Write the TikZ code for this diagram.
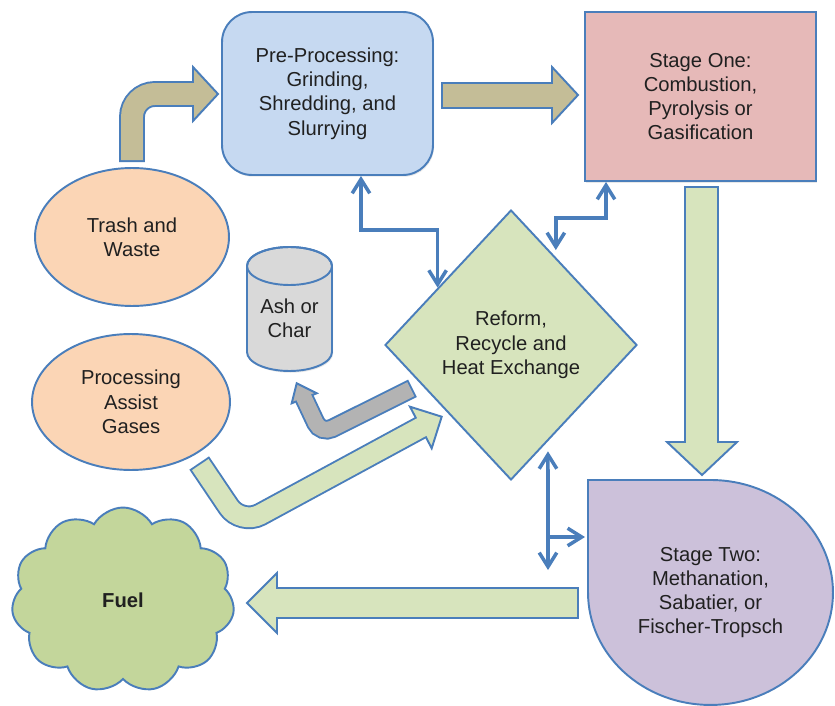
\documentclass[tikz,border=0pt]{standalone}
\usepackage{fontspec}
\setmainfont{Liberation Sans}
\usetikzlibrary{positioning, shapes.geometric, shapes.symbols, shadows, arrows.meta}

\definecolor{edgeblue}{HTML}{4A7EBB}
\definecolor{preblue}{HTML}{C6D9F1}
\definecolor{onepink}{HTML}{E6B9B8}
\definecolor{peach}{HTML}{FBD5B5}
\definecolor{ashgray}{HTML}{D9D9D9}
\definecolor{arrowgray}{HTML}{B3B3B3}
\definecolor{reformgreen}{HTML}{D7E4BD}
\definecolor{twopurple}{HTML}{CCC1DA}
\definecolor{fuelgreen}{HTML}{C3D69B}
\definecolor{khaki}{HTML}{C4BD97}
\definecolor{textdark}{HTML}{202020}

\tikzset{
  box/.style={draw=edgeblue, line width=1.1pt, align=center, text=textdark, inner sep=1pt},
  softshadow/.style={drop shadow={opacity=0.18, shadow xshift=0.6pt, shadow yshift=-1pt}},
  flow/.style={draw=edgeblue, line width=2pt, {Straight Barb[length=8pt,width=10pt]}-{Straight Barb[length=8pt,width=10pt]}},
  flowone/.style={draw=edgeblue, line width=2pt, -{Straight Barb[length=8pt,width=10pt]}},
  shaft/.style={draw=edgeblue, line width=1.1pt, line join=miter}
}

\begin{document}
\begin{tikzpicture}[x=0.02cm, y=0.02cm, font=\fontsize{11.5}{13.8}\selectfont]
\useasboundingbox (0,0) rectangle (835,-706);

% straight block arrows
\filldraw[fill=khaki, shaft] (442,-83) -- (552,-83) -- (552,-67) -- (578,-95) -- (552,-123) -- (552,-108) -- (442,-108) -- cycle;
\filldraw[fill=reformgreen, shaft] (685,-187) -- (718,-187) -- (718,-442) -- (737,-442) -- (702,-475) -- (667,-442) -- (685,-442) -- cycle;
\filldraw[fill=reformgreen, shaft] (578,-588) -- (277,-588) -- (277,-573) -- (247,-603) -- (277,-633) -- (277,-618) -- (578,-618) -- cycle;

% bent block arrows (outline, head, then body)
\draw[edgeblue, line width=14.7pt, rounded corners=13pt] (132,-162) -- (132,-94) -- (193,-94);
\filldraw[fill=khaki, shaft] (193,-67) -- (218,-94) -- (193,-121) -- cycle;
\draw[khaki, line width=12.5pt, rounded corners=13pt, shorten <=1.1pt, shorten >=-3pt] (132,-162) -- (132,-94) -- (193,-94);

\draw[edgeblue, line width=13.5pt, rounded corners=12.5pt] (199.2,-463) -- (241,-525) -- (420.8,-427.5);
\filldraw[fill=reformgreen, shaft] (410,-406.7) -- (441.7,-416.7) -- (431.7,-448.3) -- cycle;
\draw[reformgreen, line width=11.3pt, rounded corners=12.5pt, shorten <=1.1pt, shorten >=-3pt] (199.2,-463) -- (241,-525) -- (420.8,-427.5);

\draw[edgeblue, line width=11.1pt, rounded corners=7pt] (412.5,-388.3) -- (321,-434) -- (304.2,-398.3);
\filldraw[fill=arrowgray, shaft] (291.7,-403.3) -- (296.7,-383.3) -- (316.7,-393.3) -- cycle;
\draw[arrowgray, line width=8.9pt, rounded corners=7pt, shorten <=1.1pt, shorten >=-2.5pt] (412.5,-388.3) -- (321,-434) -- (304.2,-398.3);

% shapes
\node[box, fill=preblue, rounded corners=0.6cm, minimum width=4.22cm, minimum height=3.26cm, softshadow] (pre) at (327.5,-93.5) {Pre-Processing:\\Grinding,\\Shredding, and\\Slurrying};
\node[box, fill=onepink, minimum width=4.62cm, minimum height=3.38cm, softshadow] (one) at (700.5,-96.5) {Stage One:\\Combustion,\\Pyrolysis or\\Gasification};
\node[box, ellipse, fill=peach, minimum width=3.88cm, minimum height=2.76cm] (trash) at (132,-237) {Trash and\\Waste};
\node[box, ellipse, fill=peach, minimum width=3.96cm, minimum height=2.72cm] (gases) at (131,-402) {Processing\\Assist\\Gases};
\node[box, diamond, fill=reformgreen, minimum width=5.04cm, minimum height=5.4cm, inner sep=0pt] (reform) at (511,-345) {Reform,\\Recycle and\\Heat Exchange};

\filldraw[fill=ashgray, draw=edgeblue, line width=1.1pt, softshadow] (247,-266) -- (247,-352) arc[start angle=180, end angle=360, x radius=0.85cm, y radius=0.38cm] -- (332,-266) arc[start angle=0, end angle=180, x radius=0.85cm, y radius=0.38cm] -- cycle;
\draw[edgeblue, line width=1.1pt] (289.5,-266) ellipse [x radius=0.85cm, y radius=0.38cm];
\node[align=center, text=textdark] (ash) at (289.5,-318) {Ash or\\Char};

\filldraw[fill=twopurple, draw=edgeblue, line width=1.1pt] (588,-592.5) -- (588,-480) -- (710.5,-480) arc[start angle=90, end angle=-180, x radius=2.45cm, y radius=2.25cm] -- cycle;
\node[align=center, text=textdark, minimum width=4.9cm, minimum height=4.5cm] (two) at (710.5,-592.5) {Stage Two:\\Methanation,\\Sabatier, or\\Fischer-Tropsch};

\node[box, cloud, cloud puffs=11, cloud puff arc=120, aspect=1.2, fill=fuelgreen, minimum width=4.46cm, minimum height=3.7cm] (fuel) at (123,-600) {\textbf{Fuel}};

% thin exchange arrows
\draw[flow] ([xshift=0.67cm]pre.south) -- ++(0,-54) -| (reform.142);
\draw[flow] ([xshift=-1.89cm]one.south) -- ++(0,-36) -| ([yshift=0.14cm]reform.63);
\coordinate (tap) at (548,-570);
\coordinate (twoin) at (585,-537);
\draw[flow] ([yshift=-0.2cm]reform.-69) -- (tap);
\draw[flowone] (tap |- twoin) -- (twoin);

\end{tikzpicture}
\end{document}
